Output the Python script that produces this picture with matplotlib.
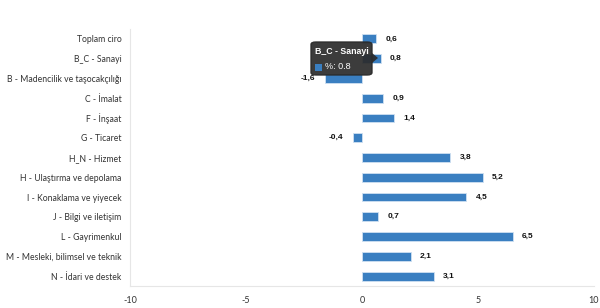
import matplotlib
matplotlib.use("Agg")
import matplotlib.pyplot as plt
from matplotlib.patches import FancyBboxPatch, Polygon, Rectangle

categories = ["Toplam ciro", "B_C - Sanayi", "B - Madencilik ve taşocakçılığı", "C - İmalat",
              "F - İnşaat", "G - Ticaret", "H_N - Hizmet", "H - Ulaştırma ve depolama",
              "I - Konaklama ve yiyecek", "J - Bilgi ve iletişim", "L - Gayrimenkul",
              "M - Mesleki, bilimsel ve teknik", "N - İdari ve destek"]
values = [0.6, 0.8, -1.6, 0.9, 1.4, -0.4, 3.8, 5.2, 4.5, 0.7, 6.5, 2.1, 3.1]
xticks = [-10, -5, 0, 5, 10]

plt.rcParams['font.family'] = ['Lato', 'DejaVu Sans']
W, H = 600, 308
fig = plt.figure(figsize=(6, 3.08), dpi=100)
ax = fig.add_axes([130/W, 1-286/H, (594-130)/W, (286-29)/H])

bar_color = "#3a7fc1"
y = list(range(len(categories)))
ax.barh(y, values, height=0.45, color=bar_color, edgecolor="#cfe0f1", linewidth=0.6)
for yi, v in zip(y, values):
    txt = f"{v:.1f}".replace(".", ",")
    if v >= 0:
        ax.text(v + 0.4, yi, txt, va="center", ha="left", fontsize=6, fontweight="bold",
                color="#111", family="Liberation Sans")
    else:
        ax.text(v - 0.4, yi, txt, va="center", ha="right", fontsize=6, fontweight="bold",
                color="#111", family="Liberation Sans")

ax.set_xlim(-10, 10)
ax.set_ylim(len(categories) - 0.5, -0.5)
ax.set_yticks(y)
ax.set_yticklabels(categories, fontsize=6.2, color="#333")
ax.set_xticks(xticks)
ax.set_xticklabels([str(t) for t in xticks], fontsize=6.5, color="#333")
ax.tick_params(axis="y", length=0, pad=6)
ax.tick_params(axis="x", length=0, pad=7)
for s in ["top", "right"]:
    ax.spines[s].set_visible(False)
for s in ["left", "bottom"]:
    ax.spines[s].set_color("#e6e6e6")
    ax.spines[s].set_linewidth(0.8)

# tooltip overlay
def fx(px): return px / W
def fy(py): return 1 - py / H
box = FancyBboxPatch((fx(311), fy(75)), fx(372) - fx(311), fy(42) - fy(75),
                     boxstyle="round,pad=0,rounding_size=0.008", transform=fig.transFigure,
                     facecolor="#2b2b2b", edgecolor="#2b2b2b", alpha=0.92, zorder=10)
fig.patches.append(box)
tri = Polygon([[fx(372), fy(53)], [fx(378), fy(58)], [fx(372), fy(63)]], closed=True,
              transform=fig.transFigure, facecolor="#2b2b2b", edgecolor="none", alpha=0.92, zorder=10)
fig.patches.append(tri)
fig.text(fx(315), fy(51), "B_C - Sanayi", color="white", fontsize=6.3, fontweight="bold",
         va="center", ha="left", zorder=11, family="Liberation Sans")
sq = Rectangle((fx(315), fy(71)), fx(7), fy(0) - fy(7), transform=fig.transFigure,
               facecolor=bar_color, edgecolor="none", zorder=11)
fig.patches.append(sq)
fig.text(fx(325), fy(67), "%: 0.8", color="white", fontsize=6.5, va="center", ha="left",
         zorder=11, family="Liberation Sans")

fig.savefig("out.png", dpi=100)
